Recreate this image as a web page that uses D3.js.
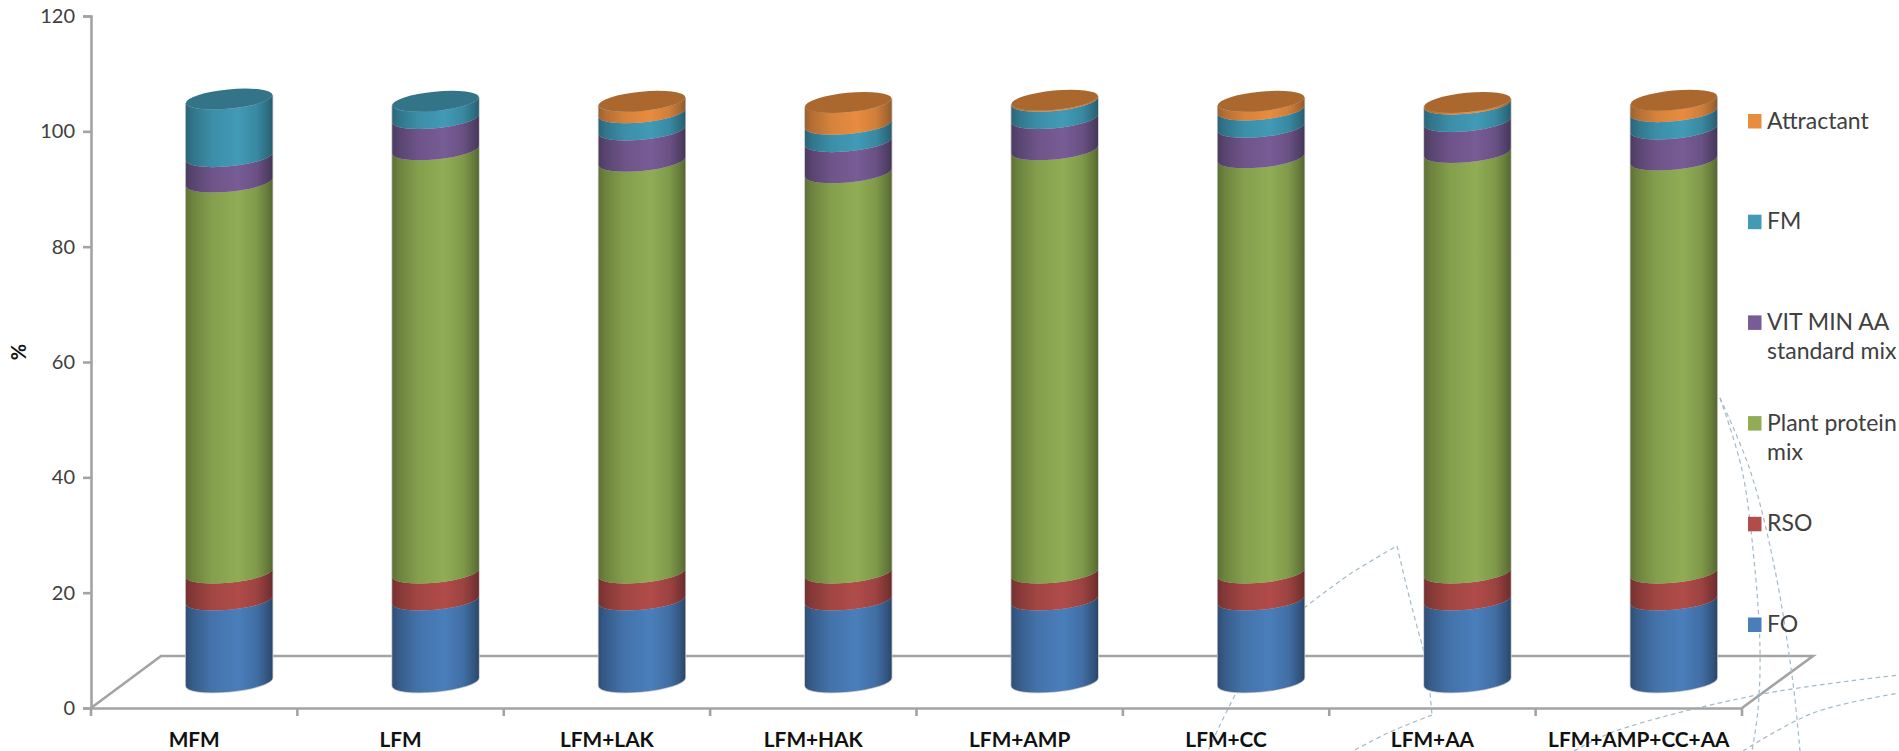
<!DOCTYPE html>
<html><head><meta charset="utf-8">
<script src="https://cdn.jsdelivr.net/npm/d3@7"></script>
<style>html,body{margin:0;padding:0;background:#fff;overflow:hidden}svg{display:block}text{font-family:Lato,"Open Sans",sans-serif}</style>
</head><body><svg id="c" width="1899" height="751"></svg>
<script>
const categories=["MFM","LFM","LFM+LAK","LFM+HAK","LFM+AMP","LFM+CC","LFM+AA","LFM+AMP+CC+AA"];
const FO=[14.2,14.2,14.2,14.2,14.2,14.2,14.2,14.2];
const RSO=[4.7,4.7,4.7,4.7,4.7,4.7,4.7,4.7];
const PlantMix=[67.8,73.4,71.4,69.4,73.4,72.0,72.9,71.6];
const VitMin=[4.4,5.4,5.4,5.4,5.4,5.3,5.4,5.4];
const FM=[10.0,3.0,3.0,3.0,3.0,3.0,3.0,3.0];
const Attractant=[0,0,2.0,3.8,0.2,1.5,0.3,2.0];
const yTicks=[0,20,40,60,80,100,120];
const seriesNames=["FO","RSO","Plant","Vit","FM","Attractant"];
const seriesValues=[FO,RSO,PlantMix,VitMin,FM,Attractant];
const legendLabels=[["FO"],["RSO"],["Plant protein","mix"],["VIT MIN AA","standard mix"],["FM"],["Attractant"]];
const colors=["#4a7ebb","#b04c49","#90ad55","#785c95","#419ab6","#e88c3f"];
const edgeColors=["#2a4669","#692c2b","#55672f","#443557","#265c6e","#8f5a2c"];
const topColors=["#3c6798","#8f3e3c","#75903f","#5c4675","#337488","#aa682f"];

const svg=d3.select("#c");
const x0=91,x1=1742,y0=708,yTop=16,depthX=35,depthY=26;
const x=d3.scaleBand().domain(categories).range([x0,x1]);
const y=d3.scaleLinear().domain([0,120]).range([y0,yTop]);
const rows=categories.map((c,i)=>{const r={cat:c};seriesNames.forEach((s,k)=>r[s]=seriesValues[k][i]);return r;});
const stacked=d3.stack().keys(seriesNames)(rows);

const defs=svg.append("defs");
colors.forEach((c,i)=>{
  const g=defs.append("linearGradient").attr("id","g"+i).attr("x1",0).attr("x2",1).attr("y1",0).attr("y2",0);
  const mix=d3.interpolateRgb(edgeColors[i],c);
  [[0,0.15],[0.08,0.4],[0.3,0.8],[0.6,1],[0.82,0.72],[0.95,0.25],[1,0]].forEach(s=>
    g.append("stop").attr("offset",s[0]).attr("stop-color",mix(s[1])));
});

// floor
const axisCol="#a3a3a3";
svg.append("path").attr("fill","none").attr("stroke",axisCol).attr("stroke-width",2.6)
  .attr("d",d3.line()([[x0,y0],[x0+70,656],[x1+71,656],[x1,y0]]));

// decorative dashed guides in the background
const curve=d3.line().curve(d3.curveCatmullRom.alpha(0.5));
const guides=[
 [[1304,608],[1350,574],[1397,546]],
 [[1397,546],[1410,600],[1424,652]],
 [[1430,693],[1432,715]],
 [[1432,715],[1390,732],[1353,751]],
 [[1235,695],[1220,725],[1208,751]],
 [[1720,398],[1742,470],[1755,570],[1760,650],[1758,710],[1752,751]],
 [[1720,398],[1750,470],[1775,570],[1793,683],[1800,751]],
 [[1574,751],[1613,732],[1757,695],[1899,675]],
 [[1743,751],[1813,713],[1899,693]]
];
svg.append("g").selectAll("path").data(guides).join("path").attr("d",curve)
  .attr("fill","none").attr("stroke","#9fbac9").attr("stroke-width",1.2).attr("stroke-dasharray","4.5 3.5");

// axes
const yAxis=svg.append("g").attr("transform",`translate(${x0},0)`)
  .call(d3.axisLeft(y).tickValues(yTicks).tickSize(8).tickPadding(8));
const xAxis=svg.append("g").attr("transform",`translate(0,${y0})`)
  .call(d3.axisBottom(x).tickSize(0).tickPadding(24));
yAxis.selectAll("path,line").attr("stroke",axisCol).attr("stroke-width",2.6);
xAxis.selectAll("path").attr("stroke",axisCol).attr("stroke-width",2.6);
svg.append("g").selectAll("line").data(d3.range(categories.length+1)).join("line")
  .attr("x1",i=>x0+i*x.step()).attr("x2",i=>x0+i*x.step()).attr("y1",y0).attr("y2",y0+8)
  .attr("stroke",axisCol).attr("stroke-width",2.6);
yAxis.selectAll("text").attr("font-size",20).attr("fill","#404040").attr("font-family","Lato");
xAxis.selectAll("text").attr("font-size",20.8).attr("font-weight",700).attr("fill","#111").attr("font-family","Lato").attr("dy","0");
xAxis.selectAll("text").attr("y",39);
svg.append("text").text("%").attr("transform","translate(26,352) rotate(-90)")
  .attr("text-anchor","middle").attr("font-size",20).attr("font-weight",700).attr("fill","#111");

// cylinders: tilted ellipse geometry
const A=43.5,B=9.65,TH=-5.55*Math.PI/180;
const W=Math.sqrt(A*A*Math.cos(TH)**2+B*B*Math.sin(TH)**2);
const YR=(A*A-B*B)*Math.sin(-TH)*Math.cos(TH)/W;
const rot=TH*180/Math.PI;
const cxOf=c=>x(c)+x.bandwidth()/2+depthX;
const cyOf=v=>y(v)-depthY;
const band=(cx,vLow,vHigh)=>{
  const a=cyOf(vLow),b=cyOf(vHigh);
  return `M${cx-W},${a+YR}A${A},${B} ${rot} 0 0 ${cx+W},${a-YR}L${cx+W},${b-YR}A${A},${B} ${rot} 0 1 ${cx-W},${b+YR}Z`;
};
const cyl=svg.append("g");
categories.forEach((c,i)=>{
  const g=cyl.append("g");
  const cx=cxOf(c);
  const total=stacked[stacked.length-1][i][1];
  g.append("path").attr("d",band(cx,0,total)).attr("fill","#ccc").attr("stroke","#c4c4c4").attr("stroke-width",1.6);
  let topIdx=0;
  stacked.forEach((s,k)=>{
    const d=s[i];
    if(d[1]-d[0]<=0) return;
    topIdx=k;
    g.append("path").attr("d",band(cx,d[0],d[1])).attr("fill",`url(#g${k})`);
  });
  g.append("ellipse").attr("cx",cx).attr("cy",cyOf(total)).attr("rx",A).attr("ry",B)
    .attr("transform",`rotate(${rot} ${cx} ${cyOf(total)})`).attr("fill",topColors[topIdx]);
});

// legend (top-down order = reversed series)
const legendTop=d3.scaleLinear().domain([5,0]).range([114,617.5]);
const lg=svg.append("g");
legendLabels.forEach((lines,k)=>{
  const yy=legendTop(k);
  lg.append("rect").attr("x",1748).attr("y",yy).attr("width",13.5).attr("height",14.5).attr("fill",colors[k]);
  lines.forEach((t,j)=>lg.append("text").text(t).attr("x",1767).attr("y",yy+14.5+j*29)
    .attr("font-size",23).attr("fill","#404040"));
});
</script></body></html>
